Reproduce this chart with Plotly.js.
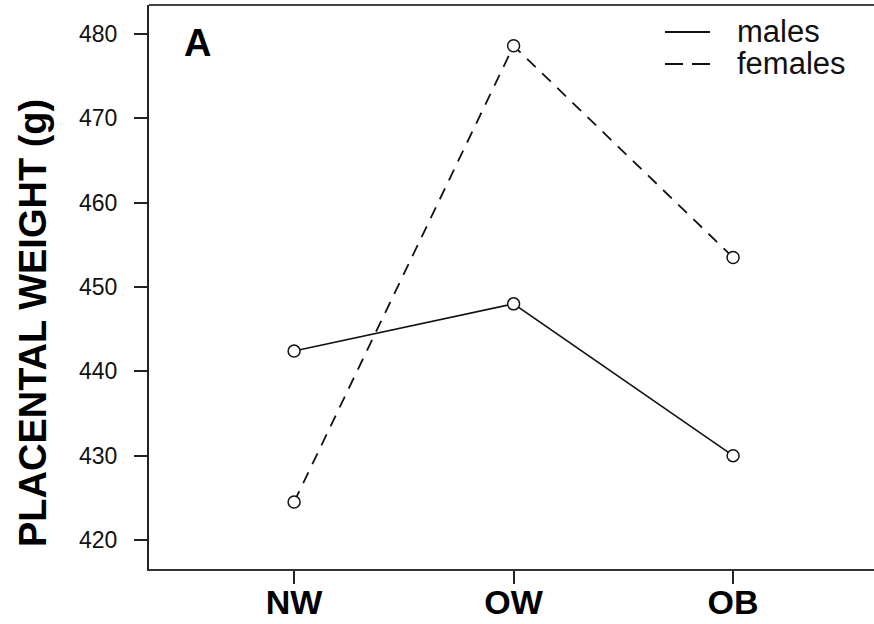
<!DOCTYPE html>
<html>
<head>
<meta charset="utf-8">
<script src="https://cdn.plot.ly/plotly-3.0.1.min.js"></script>
<style>html,body{margin:0;padding:0;background:#fff;}#chart{width:874px;height:624px;}</style>
</head>
<body>
<div id="chart"></div>
<script>
const groups = ['NW', 'OW', 'OB'];
const males = [442.4, 448.0, 430.0];
const females = [424.5, 478.6, 453.5];
const yTicks = [420, 430, 440, 450, 460, 470, 480];
const seriesNames = ['males', 'females'];
const panelLabel = 'A';
const yTitle = 'PLACENTAL WEIGHT (g)';

const FONT = 'Liberation Sans, Arial, sans-serif';
const marker = {symbol: 'circle', size: 12, color: '#fff', line: {color: '#111', width: 1.5}};

const traces = [
  {x: groups, y: males, name: seriesNames[0], type: 'scatter', mode: 'lines+markers',
   line: {color: '#111', width: 1.6}, marker: marker, showlegend: false},
  {x: groups, y: females, name: seriesNames[1], type: 'scatter', mode: 'lines+markers',
   line: {color: '#111', width: 1.8, dash: '12px,9px'}, marker: marker, showlegend: false}
];

const L = 149, R = 0, T = 5, B = 55, W = 874, H = 624;
const pw = W - L - R, ph = H - T - B;
const px = v => (v - L) / pw;
const py = v => 1 - (v - T) / ph;

const layout = {
  width: W, height: H,
  margin: {l: L, r: R, t: T, b: B, pad: 0},
  paper_bgcolor: '#fff', plot_bgcolor: '#fff',
  showlegend: false,
  xaxis: {
    type: 'category', range: [-0.661, 2.642],
    showgrid: false, zeroline: false,
    showline: true, linecolor: '#333', linewidth: 2, mirror: false,
    ticks: 'outside', ticklen: 13, tickwidth: 2, tickcolor: '#222',
    tickfont: {family: FONT, size: 34, color: '#000', weight: 'bold'},
    ticklabelstandoff: -11
  },
  yaxis: {
    range: [416.56, 483.44], tickvals: yTicks,
    showgrid: false, zeroline: false,
    showline: true, linecolor: '#222', linewidth: 2,
    ticks: 'outside', ticklen: 13, tickwidth: 2, tickcolor: '#222',
    tickfont: {family: FONT, size: 23, color: '#111'},
    ticklabelstandoff: 12
  },
  shapes: [
    {type: 'line', xref: 'paper', yref: 'paper', x0: 0, x1: 1, y0: 1, y1: 1,
     line: {color: '#444', width: 2}},
    {type: 'line', xref: 'paper', yref: 'paper', x0: px(665), x1: px(710), y0: py(32), y1: py(32),
     line: {color: '#111', width: 1.8}},
    {type: 'line', xref: 'paper', yref: 'paper', x0: px(665), x1: px(710), y0: py(64), y1: py(64),
     line: {color: '#111', width: 1.8, dash: '18px,9px'}}
  ],
  annotations: [
    {text: seriesNames[0], xref: 'paper', yref: 'paper', x: px(735), y: py(32),
     xanchor: 'left', yanchor: 'middle', showarrow: false, height: 31,
     font: {family: FONT, size: 31, color: '#111'}},
    {text: seriesNames[1], xref: 'paper', yref: 'paper', x: px(735), y: py(64),
     xanchor: 'left', yanchor: 'middle', showarrow: false, height: 31,
     font: {family: FONT, size: 31, color: '#111'}},
    {text: panelLabel, xref: 'paper', yref: 'paper', x: px(197), y: py(43),
     xanchor: 'center', yanchor: 'middle', showarrow: false,
     font: {family: FONT, size: 38, color: '#000', weight: 'bold'}},
    {text: yTitle, xref: 'paper', yref: 'paper', x: px(33), y: py(323),
     xanchor: 'center', yanchor: 'middle', showarrow: false, textangle: -90,
     font: {family: FONT, size: 38, color: '#000', weight: 'bold'}}
  ]
};

Plotly.newPlot('chart', traces, layout, {displayModeBar: false, staticPlot: true});
</script>
</body>
</html>
